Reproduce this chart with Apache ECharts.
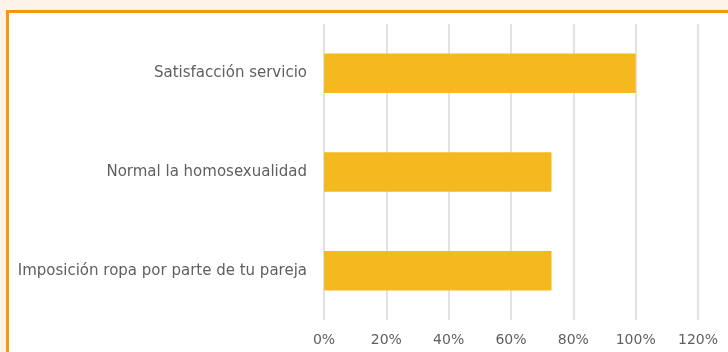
<!DOCTYPE html>
<html>
<head>
<meta charset="utf-8">
<script src="https://cdn.jsdelivr.net/npm/echarts@6/dist/echarts.min.js"></script>
<style>
  html, body { margin: 0; padding: 0; width: 728px; height: 352px; overflow: hidden; background: #fdf3e6; }
  #frame { position: absolute; left: 6px; top: 10px; width: 800px; height: 400px; background: #ffffff; border: 3px solid #f5980c; }
  #chart { position: absolute; left: 0; top: 0; width: 728px; height: 352px; }
</style>
</head>
<body>
<div id="frame"></div>
<div id="chart"></div>
<script>
// Categories listed top to bottom
const categories = [
  'Satisfacción servicio',
  'Normal la homosexualidad',
  'Imposición ropa por parte de tu pareja'
];
// Share of respondents (fraction of 1)
const shares = [1.00, 0.73, 0.73];
// Axis ticks
const tickMax = 1.2;
const tickStep = 0.2;

const chart = echarts.init(document.getElementById('chart'), null, { renderer: 'canvas' });
const textColor = '#5f5f5f';
const fontFamily = '"DejaVu Sans", "Noto Sans", sans-serif';

chart.setOption({
  backgroundColor: 'transparent',
  animation: false,
  grid: { left: 324, right: 30, top: 24, bottom: 32 },
  xAxis: {
    type: 'value',
    min: 0,
    max: tickMax,
    interval: tickStep,
    axisLine: { show: false },
    axisTick: { show: false },
    axisLabel: {
      color: textColor,
      fontFamily: fontFamily,
      fontSize: 14,
      margin: 13,
      formatter: v => Math.round(v * 100) + '%'
    },
    splitLine: { show: true, lineStyle: { color: '#d9d9d9', width: 1.5 } }
  },
  yAxis: {
    type: 'category',
    data: categories,
    inverse: true,
    axisLine: { show: false },
    axisTick: { show: false },
    axisLabel: {
      color: textColor,
      fontFamily: fontFamily,
      fontSize: 15,
      margin: 17
    }
  },
  series: [{
    type: 'bar',
    data: shares,
    barWidth: '40%',
    itemStyle: { color: '#f5b920' }
  }]
});
</script>
</body>
</html>
